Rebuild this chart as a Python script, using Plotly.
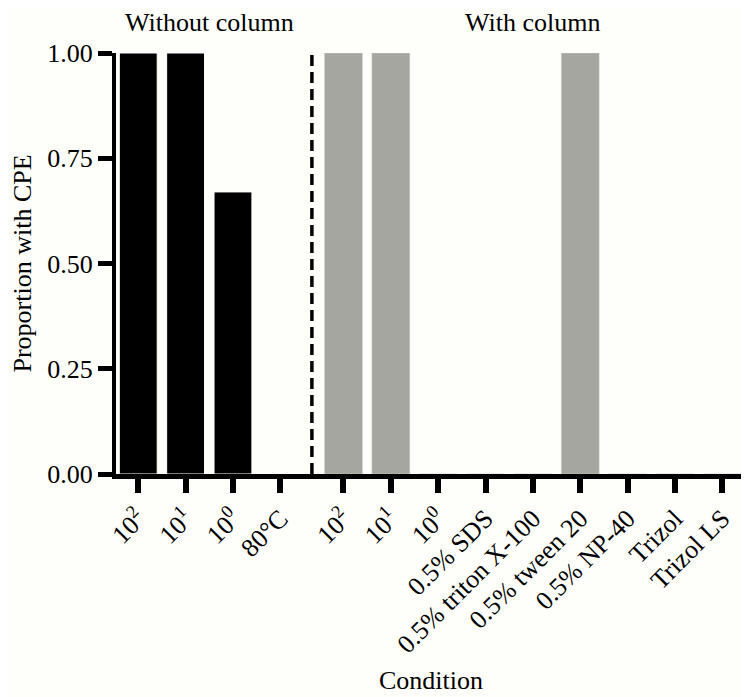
import plotly.graph_objects as go

# ---- data ----
without_labels = ["10<sup>2</sup>", "10<sup>1</sup>", "10<sup>0</sup>", "80°C"]
without_values = [1.0, 1.0, 0.67, 0.0]
with_labels = ["10<sup>2</sup>", "10<sup>1</sup>", "10<sup>0</sup>", "0.5% SDS",
               "0.5% triton X-100", "0.5% tween 20", "0.5% NP-40", "Trizol", "Trizol LS"]
with_values = [1.0, 1.0, 0.0, 0.0, 0.0, 1.0, 0.0, 0.0, 0.0]
y_ticks = [0.0, 0.25, 0.5, 0.75, 1.0]
y_ticklabels = ["0.00", "0.25", "0.50", "0.75", "1.00"]
group_titles = ["Without column", "With column"]

# ---- layout helpers ----
GAP = 1.0 / 3.0
x_without = list(range(len(without_labels)))
offset = len(without_labels) + GAP
x_with = [offset + i for i in range(len(with_labels))]
divider_x = (x_without[-1] + x_with[0]) / 2

FONT = "Liberation Serif, Times New Roman, serif"
FS = 26

fig = go.Figure()
fig.add_trace(go.Bar(x=x_without, y=without_values, marker_color="#000000",
                     marker_line_color="#ffffff", marker_line_width=1, width=0.8,
                     name="Without column", showlegend=False))
fig.add_trace(go.Bar(x=x_with, y=with_values, marker_color="#a6a6a1",
                     marker_line_color="#d0d0cc", marker_line_width=0.5, width=0.8,
                     name="With column", showlegend=False))

fig.add_shape(type="line", x0=divider_x, x1=divider_x, y0=0, y1=1,
              xref="x", yref="y", line=dict(color="black", width=3.5, dash="11px,6px"))

for xs, title in [(x_without, group_titles[0]), (x_with, group_titles[1])]:
    fig.add_annotation(x=(xs[0] + xs[-1]) / 2, y=1.0, xref="x", yref="paper",
                       yanchor="middle", yshift=31, borderpad=0, text=title, showarrow=False,
                       font=dict(size=FS, color="black", family=FONT))

fig.update_layout(
    width=749, height=697,
    margin=dict(l=108, r=11, t=45, b=231),
    paper_bgcolor="#fefefa", plot_bgcolor="#fefefa",
    font=dict(family=FONT, size=FS, color="black"),
    bargap=0.2,
    xaxis=dict(
        range=[-0.47, x_with[-1] + 0.5], automargin=False,
        tickmode="array", tickvals=x_without + x_with, ticktext=without_labels + with_labels,
        tickangle=-45, ticks="outside", ticklen=14, tickwidth=6, tickcolor="black",
        showline=True, linewidth=5, linecolor="black", showgrid=False, zeroline=False,
        title=dict(text="Condition", font=dict(size=FS), standoff=14),
    ),
    yaxis=dict(
        range=[0, 1], automargin=False,
        tickmode="array", tickvals=y_ticks, ticktext=y_ticklabels,
        ticks="outside", ticklen=14, tickwidth=5, tickcolor="black",
        showline=True, linewidth=4, linecolor="black", showgrid=False, zeroline=False,
        title=dict(text="Proportion with CPE", font=dict(size=FS), standoff=22),
    ),
)

fig.write_html("out.html")
